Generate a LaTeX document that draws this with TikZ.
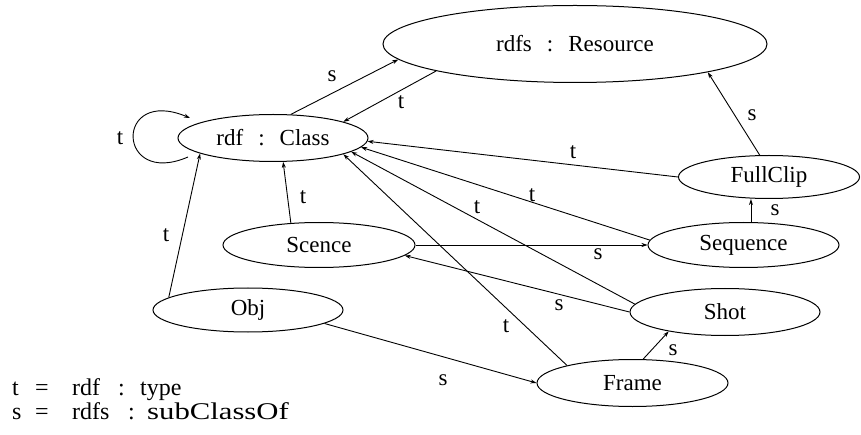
\documentclass[tikz,border=0pt]{standalone}
\usepackage{fontspec}
\usepackage{graphicx}
\setmainfont{Liberation Serif}
\usetikzlibrary{shapes.geometric,arrows.meta,calc}
\begin{document}
\begin{tikzpicture}[x=1pt,y=-1pt,
  every node/.style={font=\fontsize{23}{27}\selectfont},
  cls/.style={ellipse, draw, line width=1pt, inner sep=0pt},
  arr/.style={-{Stealth[length=6pt,width=4pt]}, line width=0.9pt},
  lbl/.style={inner sep=0pt},
  keyline/.style={inner sep=0pt, anchor=base west, font=\fontsize{24}{28}\selectfont}]
\useasboundingbox (0,0) rectangle (861,435);
\fill[white] (0,0) rectangle (861,435);

% classes
\node[cls, minimum width=384pt, minimum height=77pt] (res) at (575,44) {rdfs\hspace{15pt}:\hspace{15pt}Resource};
\node[cls, minimum width=190pt, minimum height=47pt] (cl) at (273,138) {rdf\hspace{15pt}:\hspace{15pt}Class};
\node[cls, minimum width=181pt, minimum height=43pt] (fc) at (769,177) {FullClip};
\node[cls, minimum width=191pt, minimum height=45pt] (seq) at (743.5,245) {Sequence};
\node[cls, minimum width=192pt, minimum height=45pt] (scn) at (319,245) {Scence};
\node[cls, minimum width=190pt, minimum height=44pt] (obj) at (248,310) {Obj};
\node[cls, minimum width=190pt, minimum height=47pt] (shot) at (725,312) {Shot};
\node[cls, minimum width=191pt, minimum height=47pt] (frm) at (632.5,383) {Frame};

% relations
\draw[arr] (cl.53) -- (res.185);
\draw[arr] (res.191) -- (cl.13);
\draw[arr] ([shift={(-85,19)}]cl.center) .. controls ([shift={(-157,50)}]cl.center) and ([shift={(-159,-52)}]cl.center) .. ([shift={(-83,-20)}]cl.center);
\draw[arr] (obj.171) -- (cl.192);
\draw[arr] (scn.142) -- (cl.293);
\draw[arr] (fc.180) -- (cl.-2);
\draw[arr] (seq.177) -- (cl.-6);
\draw[arr] (shot.175) -- (cl.-10);
\draw[arr] (frm.165) -- (cl.-13);
\draw[arr] (scn.0) -- (seq.180);
\draw[arr] (shot.180) -- (scn.-7);
\draw[arr] (obj.-10) -- (frm.180);
\draw[arr] (frm.66) -- (shot.199);
\draw[arr] (seq.72) -- (seq.72 |- fc.south);
\draw[arr] (fc.113) -- (res.-12);

% relation labels
\node[lbl] (la) at (332,76) {s};
\node[lbl] (lb) at (401,102) {t};
\node[lbl] (lc) at (120,138) {t};
\node[lbl] (ld) at (166,235) {t};
\node[lbl] (le) at (303,197) {t};
\node[lbl] (lf) at (573,152) {t};
\node[lbl] (lg) at (532,195) {t};
\node[lbl] (lh) at (477,207) {t};
\node[lbl] (li) at (506,326) {t};
\node[lbl] (lj) at (598,254) {s};
\node[lbl] (lk) at (559,305) {s};
\node[lbl] (ll) at (443,380) {s};
\node[lbl] (lm) at (673,350) {s};
\node[lbl] (ln) at (775,210) {s};
\node[lbl] (lo) at (752,115) {s};

% key
\node[keyline] (key1) at (12,395)
  {\makebox[23pt][l]{t}\makebox[37pt][l]{=}\makebox[46pt][l]{rdf}\makebox[22pt][l]{:}type};
\node[keyline] (key2) at (12,419)
  {\makebox[23pt][l]{s}\makebox[37pt][l]{=}\makebox[56pt][l]{rdfs}\makebox[19pt][l]{:}\scalebox{1.28}[1]{subClassOf}};
\end{tikzpicture}
\end{document}
